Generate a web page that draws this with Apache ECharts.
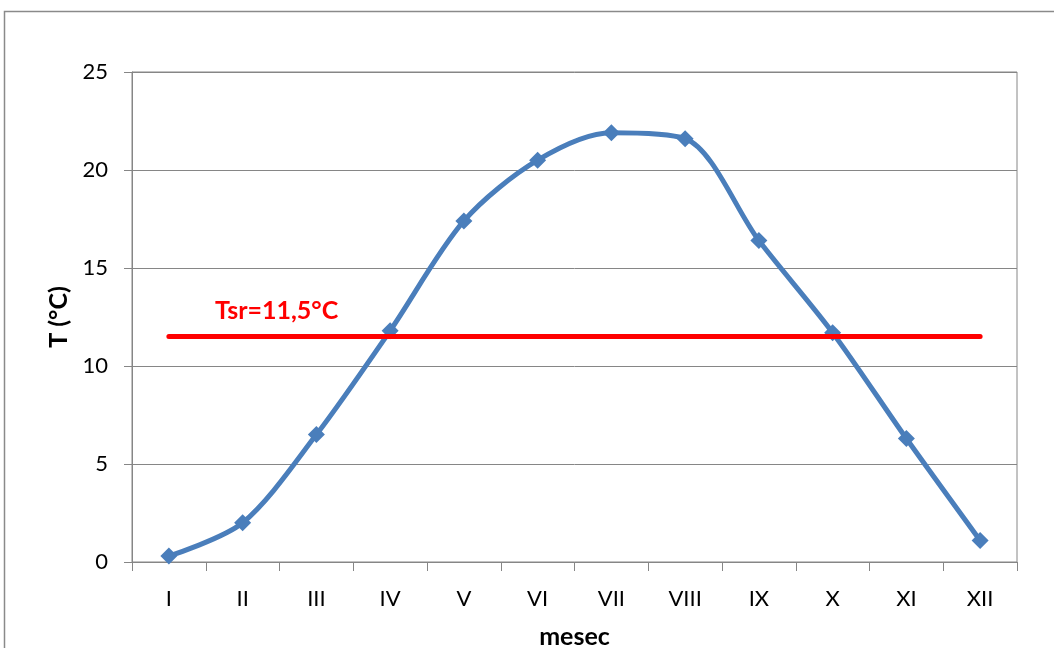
<!DOCTYPE html>
<html>
<head>
<meta charset="utf-8">
<script src="https://cdn.jsdelivr.net/npm/echarts@6/dist/echarts.min.js"></script>
<style>
  html, body { margin: 0; padding: 0; background: #fff; overflow: hidden; }
  #chart { width: 1054px; height: 648px; }
</style>
</head>
<body>
<div id="chart"></div>
<script>
// Monthly mean temperatures and the annual mean
const months = ['I', 'II', 'III', 'IV', 'V', 'VI', 'VII', 'VIII', 'IX', 'X', 'XI', 'XII'];
const temperature = [0.3, 2.0, 6.5, 11.8, 17.4, 20.5, 21.9, 21.6, 16.4, 11.7, 6.3, 1.1];
const meanTemp = 11.5;
const meanLabel = 'Tsr=11,5°C';
const yTicks = { min: 0, max: 25, interval: 5 };

const FONT = 'Lato, "Liberation Sans", sans-serif';
const GRID_COLOR = '#868686';

const meanLine = months.map(() => meanTemp);

const chart = echarts.init(document.getElementById('chart'));
chart.setOption({
  animation: false,
  backgroundColor: '#fff',
  graphic: [{
    type: 'rect',
    shape: { x: 4.5, y: 11.5, width: 1200, height: 800 },
    style: { fill: 'none', stroke: '#8a8a8a', lineWidth: 1.5 },
    silent: true, z: -10
  }],
  grid: {
    left: 132, top: 72, right: 37, bottom: 86,
    outerBoundsMode: 'none', containLabel: false,
    show: true, borderColor: GRID_COLOR, borderWidth: 1
  },
  xAxis: {
    type: 'category',
    data: months,
    boundaryGap: true,
    name: 'mesec',
    nameLocation: 'middle',
    nameGap: 62,
    nameTextStyle: { fontFamily: FONT, fontSize: 25, fontWeight: 'bold', color: '#000' },
    axisLine: { lineStyle: { color: GRID_COLOR, width: 1 } },
    axisTick: { show: true, length: 9, inside: false, alignWithLabel: false, lineStyle: { color: GRID_COLOR } },
    axisLabel: { margin: 26, fontFamily: FONT, fontSize: 22, color: '#000' },
    splitLine: { show: false }
  },
  yAxis: {
    type: 'value',
    min: yTicks.min, max: yTicks.max, interval: yTicks.interval,
    name: 'T (°C)',
    nameLocation: 'middle',
    nameGap: 60,
    nameRotate: 90,
    nameTextStyle: { fontFamily: FONT, fontSize: 25, fontWeight: 'bold', color: '#000' },
    axisLine: { show: true, lineStyle: { color: GRID_COLOR, width: 1 } },
    axisTick: { show: true, length: 8, lineStyle: { color: GRID_COLOR } },
    axisLabel: { margin: 24, fontFamily: FONT, fontSize: 22, color: '#000' },
    splitLine: { show: true, lineStyle: { color: GRID_COLOR, width: 1 } }
  },
  series: [
    {
      name: 'T',
      type: 'line',
      data: temperature,
      smooth: 0.3,
      symbol: 'diamond',
      symbolSize: 17,
      lineStyle: { color: '#4a7ebb', width: 5 },
      itemStyle: { color: '#4a7ebb' },
      z: 3
    },
    {
      name: 'Tsr',
      type: 'line',
      data: meanLine,
      symbol: 'none',
      lineStyle: { color: '#ff0000', width: 5, cap: 'round' },
      markPoint: {
        symbol: 'circle',
        symbolSize: 0,
        data: [{ coord: [1, meanTemp], value: meanTemp }],
        label: {
          show: true,
          formatter: meanLabel,
          position: 'inside',
          offset: [34, -26],
          color: '#ff0000',
          fontSize: 25,
          fontWeight: 'bold',
          fontFamily: FONT
        }
      },
      z: 4
    }
  ]
});
</script>
</body>
</html>
